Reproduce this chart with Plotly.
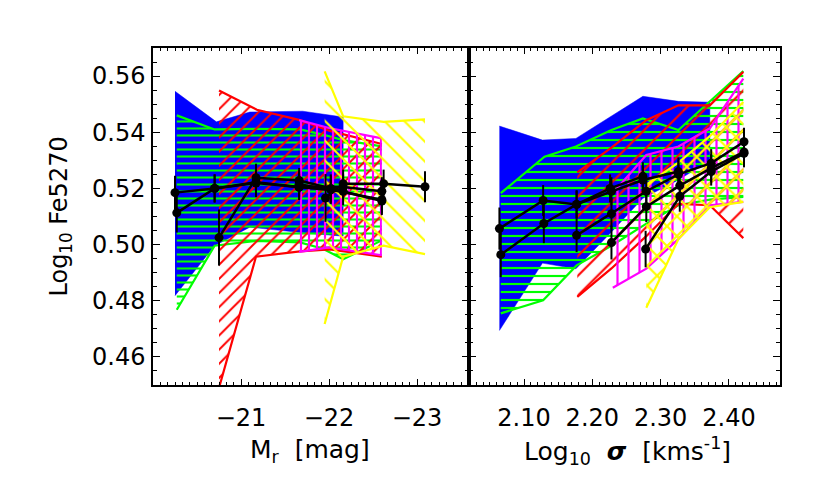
import plotly.graph_objects as go

# ---------------- data: left panel (M_r) ----------------
blueL_hx = [-20.25, -20.72, -21.10, -21.70, -22.16]
blueL_hy = [0.5546, 0.5437, 0.5472, 0.5475, 0.5454]
blueL_lx = [-20.25, -20.70, -21.10, -21.70, -22.16]
blueL_ly = [0.4818, 0.4996, 0.5062, 0.5042, 0.5030]

greenL_hx = [-20.27, -20.70, -21.17, -21.67, -21.95, -22.16, -22.60]
greenL_hy = [0.5460, 0.5410, 0.5412, 0.5410, 0.5390, 0.5372, 0.5350]
greenL_lx = [-20.27, -20.70, -21.17, -21.67, -21.93, -22.16, -22.60]
greenL_ly = [0.4768, 0.4996, 0.5013, 0.5008, 0.4985, 0.4948, 0.5015]

redL_hx = [-20.75, -21.18, -21.67, -22.01, -22.60]
redL_hy = [0.5549, 0.5480, 0.5443, 0.5405, 0.5358]
redL_lx = [-20.75, -21.17, -21.67, -22.01, -22.60]
redL_ly = [0.4490, 0.4957, 0.4976, 0.4983, 0.4957]

magL_hx = [-21.66, -22.00, -22.60]
magL_hy = [0.5443, 0.5415, 0.5378]
magL_lx = [-21.66, -22.00, -22.60]
magL_ly = [0.4974, 0.4990, 0.4962]

yelL_hx = [-21.95, -22.16, -22.62, -23.09]
yelL_hy = [0.5617, 0.5457, 0.5437, 0.5446]
yelL_lx = [-21.95, -22.16, -22.62, -23.09]
yelL_ly = [0.4717, 0.4957, 0.4996, 0.4966]

# black median lines, left
lineL = [
    ([-20.25, -20.70, -21.17, -21.66, -22.16], [0.5185, 0.5200, 0.5219, 0.5204, 0.5190], [0.0060, 0.0050, 0.0050, 0.0045, 0.0050]),
    ([-20.27, -20.70, -21.17, -21.66, -22.16, -22.60], [0.5113, 0.5200, 0.5222, 0.5205, 0.5205, 0.5190], [0.0070, 0.0050, 0.0050, 0.0045, 0.0045, 0.0050]),
    ([-20.75, -21.17, -21.66, -22.02, -22.60], [0.5025, 0.5238, 0.5228, 0.5200, 0.5155], [0.0100, 0.0050, 0.0045, 0.0050, 0.0050]),
    ([-21.66, -22.02, -22.60], [0.5215, 0.5195, 0.5160], [0.0045, 0.0050, 0.0050]),
    ([-21.96, -22.16, -22.62, -23.09], [0.5166, 0.5217, 0.5217, 0.5206], [0.0085, 0.0050, 0.0050, 0.0055]),
]

# ---------------- data: right panel (log sigma) ----------------
blueR_hx = [2.064, 2.127, 2.176, 2.274, 2.326, 2.372]
blueR_hy = [0.5422, 0.5372, 0.5378, 0.5528, 0.5510, 0.5507]
blueR_lx = [2.064, 2.127, 2.176, 2.228, 2.274, 2.326, 2.372]
blueR_ly = [0.4694, 0.4934, 0.4914, 0.5045, 0.5165, 0.5230, 0.5300]

greenR_hx = [2.066, 2.130, 2.176, 2.228, 2.274, 2.326, 2.421]
greenR_hy = [0.5183, 0.5313, 0.5349, 0.5408, 0.5449, 0.5408, 0.5618]
greenR_lx = [2.066, 2.128, 2.177, 2.228, 2.278, 2.326, 2.372, 2.421]
greenR_ly = [0.4755, 0.4802, 0.4926, 0.4996, 0.5073, 0.5140, 0.5160, 0.5170]

redR_hx = [2.178, 2.228, 2.279, 2.326, 2.372, 2.421]
redR_hy = [0.5257, 0.5345, 0.5443, 0.5496, 0.5496, 0.5615]
redR_lx = [2.178, 2.228, 2.279, 2.326, 2.372, 2.421]
redR_ly = [0.4814, 0.4915, 0.5030, 0.5145, 0.5140, 0.5023]

magR_hx = [2.230, 2.279, 2.326, 2.372, 2.421]
magR_hy = [0.5183, 0.5319, 0.5349, 0.5414, 0.5591]
magR_lx = [2.230, 2.279, 2.326, 2.372, 2.421]
magR_ly = [0.4846, 0.4914, 0.5020, 0.5140, 0.5152]

yelR_hx = [2.279, 2.326, 2.372, 2.421]
yelR_hy = [0.5213, 0.5292, 0.5386, 0.5508]
yelR_lx = [2.279, 2.326, 2.372, 2.421]
yelR_ly = [0.4775, 0.5020, 0.5133, 0.5152]

lineR = [
    ([2.064, 2.128, 2.177, 2.226, 2.274], [0.5057, 0.5157, 0.5143, 0.5200, 0.5243], [0.0075, 0.0055, 0.0050, 0.0050, 0.0050]),
    ([2.066, 2.129, 2.177, 2.228, 2.274, 2.326], [0.4964, 0.5075, 0.5143, 0.5190, 0.5230, 0.5260], [0.0080, 0.0070, 0.0050, 0.0050, 0.0050, 0.0050]),
    ([2.177, 2.228, 2.279, 2.326, 2.374, 2.422], [0.5033, 0.5110, 0.5190, 0.5250, 0.5290, 0.5366], [0.0060, 0.0055, 0.0050, 0.0050, 0.0050, 0.0050]),
    ([2.228, 2.279, 2.328, 2.374, 2.422], [0.5007, 0.5135, 0.5210, 0.5272, 0.5330], [0.0060, 0.0055, 0.0050, 0.0050, 0.0050]),
    ([2.278, 2.328, 2.374, 2.422], [0.4984, 0.5172, 0.5260, 0.5325], [0.0065, 0.0055, 0.0050, 0.0050]),
]

yticks = [0.46, 0.48, 0.50, 0.52, 0.54, 0.56]
xticksL = [-21, -22, -23]
xticksR = [2.10, 2.20, 2.30, 2.40]
xtextR = ["2.10", "2.20", "2.30", "2.40"]

BLUE, GREEN, RED, MAG, YEL = "#0000ff", "#00ff00", "#ff0000", "#ff00ff", "#ffff00"

fig = go.Figure()


def solid(hx, hy, lx, ly, color, xa, ya):
    fig.add_trace(go.Scatter(x=list(hx) + list(lx)[::-1], y=list(hy) + list(ly)[::-1],
                             fill="toself", fillcolor=color, mode="lines",
                             line=dict(width=0.5, color=color), xaxis=xa, yaxis=ya,
                             hoverinfo="skip", showlegend=False))


def hatch(hx, hy, lx, ly, color, shape, size, sol, xa, ya):
    fig.add_trace(go.Scatter(x=list(hx) + list(lx)[::-1], y=list(hy) + list(ly)[::-1],
                             fill="toself", fillcolor="rgba(0,0,0,0)",
                             fillpattern=dict(shape=shape, fgcolor=color, bgcolor="rgba(0,0,0,0)",
                                              size=size, solidity=sol, fillmode="replace"),
                             mode="lines", line=dict(width=0, color="rgba(0,0,0,0)"),
                             xaxis=xa, yaxis=ya, hoverinfo="skip", showlegend=False))
    for xs, ys in ((hx, hy), (lx, ly)):
        fig.add_trace(go.Scatter(x=xs, y=ys, mode="lines", line=dict(color=color, width=2.2),
                                 xaxis=xa, yaxis=ya, hoverinfo="skip", showlegend=False))


# left panel
solid(blueL_hx, blueL_hy, blueL_lx, blueL_ly, BLUE, "x", "y")
hatch(greenL_hx, greenL_hy, greenL_lx, greenL_ly, GREEN, "-", 7, 0.3, "x", "y")
hatch(redL_hx, redL_hy, redL_lx, redL_ly, RED, "/", 10, 0.2, "x", "y")
hatch(magL_hx, magL_hy, magL_lx, magL_ly, MAG, "|", 8, 0.27, "x", "y")
hatch(yelL_hx, yelL_hy, yelL_lx, yelL_ly, YEL, "\\", 14, 0.15, "x", "y")

# right panel
solid(blueR_hx, blueR_hy, blueR_lx, blueR_ly, BLUE, "x2", "y2")
hatch(greenR_hx, greenR_hy, greenR_lx, greenR_ly, GREEN, "-", 8, 0.27, "x2", "y2")
hatch(redR_hx, redR_hy, redR_lx, redR_ly, RED, "/", 14, 0.15, "x2", "y2")
hatch(magR_hx, magR_hy, magR_lx, magR_ly, MAG, "|", 11, 0.2, "x2", "y2")
hatch(yelR_hx, yelR_hy, yelR_lx, yelR_ly, YEL, "x", 14, 0.28, "x2", "y2")

for lines, xa, ya in ((lineL, "x", "y"), (lineR, "x2", "y2")):
    for xs, ys, es in lines:
        fig.add_trace(go.Scatter(x=xs, y=ys, mode="lines+markers",
                                 line=dict(color="black", width=2.5),
                                 marker=dict(color="black", size=9),
                                 error_y=dict(type="data", array=es, color="black", thickness=2, width=0),
                                 xaxis=xa, yaxis=ya, hoverinfo="skip", showlegend=False))

FONT = dict(family="DejaVu Sans", size=24, color="black")
TFONT = dict(family="DejaVu Sans", size=25, color="black")
axis_common = dict(showline=True, linecolor="black", linewidth=1.5, mirror="allticks",
                   ticks="inside", tickcolor="black", tickwidth=1.2, showgrid=False,
                   zeroline=False, tickfont=FONT)

fig.update_layout(
    width=822, height=476,
    margin=dict(l=145, r=50, t=40, b=99),
    paper_bgcolor="white", plot_bgcolor="white",
    font=FONT, showlegend=False,
    xaxis=dict(domain=[0, 0.504], range=[-20.0, -23.59], tickvals=xticksL, ticklen=6,
               minor=dict(ticks="inside", ticklen=3, dtick=1 / 12, tick0=-21, tickcolor="black", tickwidth=1),
               ticklabelstandoff=10, anchor="y", **axis_common),
    xaxis2=dict(domain=[0.504, 1], range=[2.0195, 2.4747], tickvals=xticksR, ticktext=xtextR, ticklen=6,
                minor=dict(ticks="inside", ticklen=3, dtick=0.01, tick0=2.1, tickcolor="black", tickwidth=1),
                ticklabelstandoff=10, anchor="y2", **axis_common),
    yaxis=dict(domain=[0, 1], range=[0.45, 0.57], tickvals=yticks, tickformat=".2f", ticklen=7,
               minor=dict(ticks="inside", ticklen=4, dtick=0.005, tick0=0.45, tickcolor="black", tickwidth=1),
               ticklabelstandoff=1, anchor="x", **axis_common),
    yaxis2=dict(domain=[0, 1], range=[0.45, 0.57], tickvals=yticks, showticklabels=False, ticklen=7,
                minor=dict(ticks="inside", ticklen=4, dtick=0.005, tick0=0.45, tickcolor="black", tickwidth=1),
                anchor="x2", **axis_common),
)

NB = "\u00a0"
fig.add_annotation(text="Log<sub>10</sub> Fe5270", xref="paper", yref="paper",
                   x=(60 - 153) / 627, y=0.5, textangle=-90, showarrow=False,
                   xanchor="center", yanchor="middle", font=FONT)
fig.add_annotation(text="M<sub>r</sub>" + NB + " [mag]", xref="paper", yref="paper",
                   x=(310 - 153) / 627, y=(385 - 451) / 337, showarrow=False,
                   xanchor="center", yanchor="middle", font=TFONT)
fig.add_annotation(text="Log<sub>10</sub>" + NB + " <b><i>σ</i></b>" + NB + " [kms<sup>-1</sup>]",
                   xref="paper", yref="paper",
                   x=(627 - 153) / 627, y=(385 - 451) / 337, showarrow=False,
                   xanchor="center", yanchor="middle", font=TFONT)

fig.write_html("out.html")
